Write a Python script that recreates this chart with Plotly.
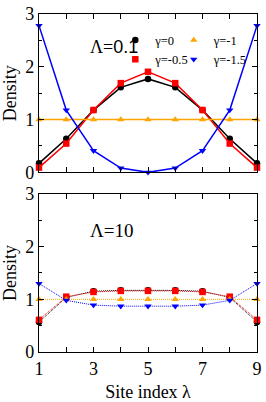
import plotly.graph_objects as go

sites = [1, 2, 3, 4, 5, 6, 7, 8, 9]

# Lambda = 0.1 panel
top_g0 = [0.17, 0.635, 1.18, 1.61, 1.77, 1.61, 1.18, 0.635, 0.17]
top_g05 = [0.09, 0.545, 1.18, 1.69, 1.905, 1.69, 1.18, 0.545, 0.09]
top_g1 = [1.0, 1.0, 1.0, 1.0, 1.0, 1.0, 1.0, 1.0, 1.0]
top_g15 = [2.78, 1.18, 0.41, 0.08, 0.0, 0.08, 0.41, 1.18, 2.78]

# Lambda = 10 panel
bot_g0 = [0.57, 1.035, 1.155, 1.17, 1.17, 1.17, 1.155, 1.035, 0.57]
bot_g05 = [0.61, 1.05, 1.14, 1.16, 1.16, 1.16, 1.14, 1.05, 0.61]
bot_g1 = [1.0, 1.0, 1.0, 1.0, 1.0, 1.0, 1.0, 1.0, 1.0]
bot_g15 = [1.30, 0.98, 0.89, 0.87, 0.87, 0.87, 0.89, 0.98, 1.30]

names = ["γ=0", "γ=-0.5", "γ=-1", "γ=-1.5"]
colors = ["#000000", "#ff0000", "#ffa500", "#0000ff"]
symbols = ["circle", "square", "triangle-up", "triangle-down"]
legends = ["legend", "legend", "legend2", "legend2"]

x_tickvals = [1, 2, 3, 4, 5, 6, 7, 8, 9]
x_ticktext = ["1", "", "3", "", "5", "", "7", "", "9"]
y_tickvals = [0, 1, 2, 3]

SERIF = "Liberation Serif"

fig = go.Figure()

top_series = [top_g0, top_g05, top_g1, top_g15]
bot_series = [bot_g0, bot_g05, bot_g1, bot_g15]

for i, ys in enumerate(top_series):
    fig.add_trace(go.Scatter(
        x=sites, y=ys, mode="lines", xaxis="x", yaxis="y",
        line=dict(color=colors[i], width=1.5), showlegend=False,
        cliponaxis=False, hoverinfo="skip"))
    fig.add_trace(go.Scatter(
        x=sites, y=ys, mode="markers", xaxis="x", yaxis="y",
        marker=dict(color=colors[i], symbol=symbols[i], size=6.5),
        name=names[i], legend=legends[i], showlegend=True,
        cliponaxis=False))

for i, ys in enumerate(bot_series):
    fig.add_trace(go.Scatter(
        x=sites, y=ys, mode="lines+markers", xaxis="x2", yaxis="y2",
        line=dict(color=colors[i], width=1, dash="1px,1px"),
        marker=dict(color=colors[i], symbol=symbols[i], size=6.5),
        showlegend=False, cliponaxis=False))

axis_common = dict(
    showline=True, linecolor="black", linewidth=1.3, mirror="allticks",
    ticks="inside", ticklen=5, tickwidth=1, tickcolor="black",
    showgrid=False, zeroline=False,
    tickfont=dict(family=SERIF, size=18, color="black"),
)

fig.update_layout(
    width=266, height=402,
    margin=dict(l=39, r=4, t=7, b=40),
    paper_bgcolor="white", plot_bgcolor="white",
    font=dict(family=SERIF, color="black"),
    xaxis=dict(domain=[0, 1], range=[1, 9], tickvals=x_tickvals,
               showticklabels=False, anchor="y", **axis_common),
    yaxis=dict(domain=[0.5316, 1], range=[0, 3], tickvals=y_tickvals,
               anchor="x",
               minor=dict(dtick=0.5, ticks="inside", ticklen=3, tickcolor="black"),
               title=dict(text="Density", font=dict(family=SERIF, size=18), standoff=4),
               **axis_common),
    xaxis2=dict(domain=[0, 1], range=[1, 9], tickvals=x_tickvals,
                ticktext=x_ticktext, anchor="y2",
                title=dict(text="Site index λ", font=dict(family=SERIF, size=18), standoff=7),
                **axis_common),
    yaxis2=dict(domain=[0, 0.4676], range=[0, 3], tickvals=y_tickvals,
                anchor="x2",
                minor=dict(dtick=0.5, ticks="inside", ticklen=3, tickcolor="black"),
                title=dict(text="Density", font=dict(family=SERIF, size=18), standoff=4),
                **axis_common),
    legend=dict(x=0.35, y=0.966, xanchor="left", yanchor="top",
                bgcolor="rgba(0,0,0,0)", font=dict(family=SERIF, size=12.5),
                itemwidth=30, tracegroupgap=0),
    legend2=dict(x=0.618, y=0.966, xanchor="left", yanchor="top",
                 bgcolor="rgba(0,0,0,0)", font=dict(family=SERIF, size=12.5),
                 itemwidth=30, tracegroupgap=0),
    annotations=[
        dict(text="Λ=<span style='font-family:Liberation Sans'>0.1</span>",
             x=0.226, y=2.38, xref="paper", yref="y", showarrow=False,
             font=dict(family=SERIF, size=18, color="black")),
        dict(text="Λ=10", x=0.226, y=2.31, xref="paper", yref="y2",
             showarrow=False, font=dict(family=SERIF, size=19, color="black")),
    ],
)

fig.write_html("out.html", config={"displayModeBar": False},
               post_script="document.body.style.margin='0';document.body.style.padding='0';")
